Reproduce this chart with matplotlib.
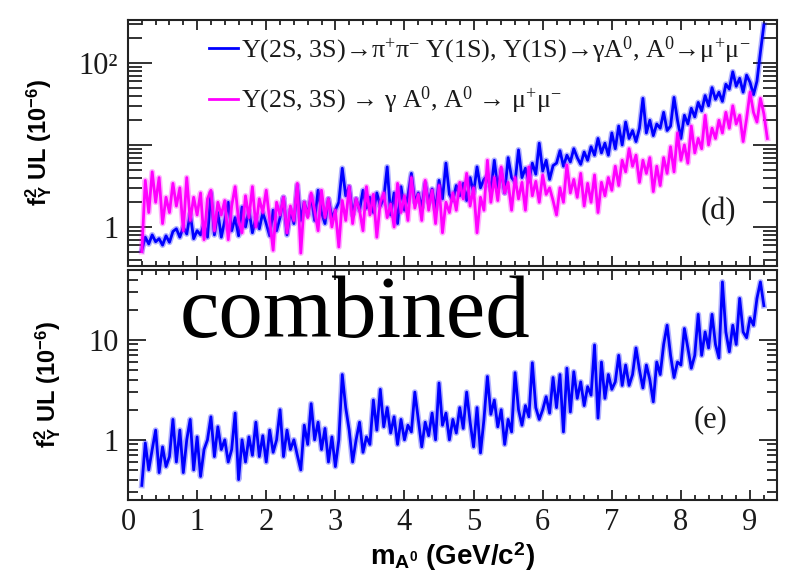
import numpy as np
import matplotlib
matplotlib.use("Agg")
import matplotlib.pyplot as plt
from matplotlib.ticker import FixedLocator, LogLocator, NullFormatter, MultipleLocator

plt.rcParams['mathtext.fontset'] = 'custom'
plt.rcParams['mathtext.rm'] = 'Liberation Serif'
plt.rcParams['mathtext.it'] = 'Liberation Serif:italic'
plt.rcParams['mathtext.bf'] = 'Liberation Sans:bold'

# ---------------- data ----------------
# mass grid (GeV/c^2), 0.05 GeV steps starting at 0.20
mass = np.round(np.arange(0.20, 9.2501, 0.05), 2)

# Upsilon(2S,3S) -> pi+pi- Upsilon(1S), Upsilon(1S) -> gamma A0  (panel d, blue)
ul_pipi = [
    0.52, 0.75, 0.62, 0.8, 0.66, 0.72, 0.6, 0.78, 0.65, 0.88,
    0.95, 0.75, 1.0, 0.82, 1.45, 0.72, 0.9, 0.8, 1.1, 0.75,
    2.6, 0.8, 1.5, 0.75, 1.2, 2.0, 0.9, 1.3, 0.78, 1.75,
    1.0, 1.6, 0.85, 1.3, 0.95, 1.5, 1.1, 0.78, 1.6, 0.9,
    1.3, 2.3, 0.8, 1.6, 1.1, 3.2, 1.2, 2.0, 1.4, 2.4,
    1.2, 2.8, 1.5, 1.1, 2.2, 1.3, 1.6, 2.0, 5.2, 2.4,
    3.1, 1.4, 2.2, 1.6, 2.8, 1.7, 2.3, 1.5, 2.6, 1.8,
    2.2, 5.4, 1.4, 2.6, 1.1, 3.1, 1.6, 2.4, 4.5, 2.0,
    2.6, 1.7, 3.4, 2.0, 2.9, 1.6, 3.7, 2.2, 6.0, 2.5,
    2.1, 3.2, 2.4, 3.4, 2.1, 4.0, 2.6, 5.4, 3.0, 3.8,
    4.2, 2.8, 6.5, 3.0, 5.0, 2.6, 7.0, 4.0, 3.5, 8.7,
    4.0, 5.2, 3.6, 6.0, 4.4, 10.5, 4.8, 6.5, 3.8, 5.6,
    6.0, 8.5, 5.5, 7.5, 6.2, 9.0, 7.0, 5.8, 8.2, 6.5,
    9.5, 7.5, 12.0, 8.0, 10.5, 7.5, 14.0, 9.0, 17.0, 10.0,
    19.0, 12.0, 15.0, 11.0, 16.0, 37.0, 14.0, 20.0, 13.0, 18.0,
    16.0, 25.0, 15.0, 17.0, 38.0, 20.0, 12.0, 23.0, 18.0, 28.0,
    22.0, 33.0, 26.0, 40.0, 30.0, 50.0, 36.0, 44.0, 34.0, 55.0,
    48.0, 78.0, 52.0, 65.0, 44.0, 71.0, 58.0, 41.0, 60.0, 135.0,
    290.0,
]

# Upsilon(2S,3S) -> gamma A0  (panel d, magenta)
ul_gamma = [
    0.5, 3.7, 1.5, 4.7, 2.0, 4.0, 1.1, 2.3, 1.5, 3.4,
    1.8, 3.0, 0.9, 4.0, 1.2, 2.3, 1.4, 2.6, 0.7, 2.2,
    2.8, 0.9, 2.0, 1.4, 2.1, 0.7, 1.8, 3.1, 1.2, 0.85,
    2.4, 1.3, 3.1, 1.0, 2.2, 1.5, 2.8, 1.2, 0.52, 2.0,
    1.4, 2.3, 0.85, 1.8, 1.2, 3.4, 0.48, 2.0, 1.3, 2.6,
    1.6, 0.9, 2.8, 1.3, 2.2, 1.0, 1.6, 0.57, 2.1, 1.2,
    3.1, 1.1, 2.2, 1.6, 0.9, 3.1, 1.4, 2.5, 0.75, 2.0,
    2.6, 1.3, 1.9, 1.0, 3.4, 1.5, 2.4, 1.2, 4.0, 1.7,
    2.5, 1.2, 3.7, 1.6, 2.8, 1.1, 3.2, 0.85, 2.0, 1.5,
    2.6, 1.6, 3.5, 2.2, 4.5, 1.8, 3.0, 0.85, 2.3, 1.6,
    6.5, 2.0, 4.0, 2.1, 5.4, 2.6, 3.5, 1.6, 4.0, 2.2,
    3.5, 1.6, 5.4, 2.4, 3.6, 2.0, 4.3, 2.5, 3.0, 2.1,
    1.4, 3.0, 2.0, 5.7, 2.6, 3.8, 2.3, 4.5, 1.8, 3.4,
    2.0, 4.3, 1.5, 3.5, 2.4, 4.0, 2.8, 5.5, 3.2, 6.5,
    4.7, 9.0, 5.5, 7.5, 3.5, 6.5, 4.5, 7.0, 2.7, 5.5,
    3.2, 7.0, 4.5, 9.5, 4.7, 14.0, 6.5, 10.0, 6.0, 17.0,
    8.0, 12.0, 9.0, 23.0, 10.0, 16.0, 12.0, 20.0, 14.0, 25.0,
    16.0, 30.0, 18.0, 23.0, 11.0, 21.0, 44.0, 25.0, 19.0, 37.0,
    24.0, 12.0,
]

# combined (panel e, blue)
ul_comb = [
    0.35, 0.93, 0.5, 0.8, 1.25, 0.47, 0.85, 0.54, 0.68, 1.6,
    0.6, 1.25, 0.47, 1.0, 1.6, 0.5, 1.07, 0.43, 0.8, 1.0,
    1.7, 0.68, 1.35, 0.8, 1.0, 0.6, 0.8, 1.85, 0.4, 1.0,
    0.6, 1.07, 0.7, 1.5, 0.68, 1.1, 0.6, 1.25, 0.75, 1.0,
    2.0, 0.68, 1.25, 0.8, 1.0, 0.7, 0.5, 1.4, 0.9, 2.3,
    1.0, 1.5, 0.8, 1.3, 0.6, 1.07, 0.54, 1.0, 4.5, 2.1,
    1.25, 0.6, 1.0, 1.5, 0.75, 1.07, 0.9, 2.5, 1.25, 3.2,
    1.35, 2.1, 1.17, 1.7, 0.9, 1.6, 1.0, 1.4, 1.2, 3.0,
    1.6, 0.85, 1.5, 1.1, 1.85, 1.0, 3.7, 1.4, 1.85, 1.0,
    1.6, 1.17, 2.1, 1.3, 3.0, 1.5, 0.85, 2.1, 0.74, 1.6,
    4.3, 1.8, 2.5, 1.35, 2.0, 0.9, 1.6, 1.2, 4.7, 2.0,
    1.4, 2.2, 1.7, 5.9, 2.1, 1.6, 2.0, 2.7, 1.85, 4.2,
    2.1, 4.5, 1.2, 5.2, 1.9, 4.8, 2.6, 3.8, 2.2, 3.4,
    2.8, 8.9, 1.65, 6.0, 2.6, 4.5, 3.2, 3.8, 7.0, 3.5,
    5.6, 3.5, 4.5, 8.3, 5.0, 3.3, 5.6, 4.0, 2.4, 6.0,
    4.5, 9.0, 14.0, 7.0, 4.2, 6.0, 5.6, 13.0, 8.3, 5.2,
    7.0, 18.0, 7.0, 12.0, 8.3, 18.0, 9.0, 6.6, 38.0, 12.0,
    7.6, 14.0, 9.0, 26.0, 12.0, 10.5, 16.6, 14.0, 26.0, 38.0,
    22.0,
]

legend_labels = [
    "Υ(2S, 3S)→π$^{+}$π$^{-}$ Υ(1S), Υ(1S)→γA$^{0}$, A$^{0}$→μ$^{+}$μ$^{-}$",
    "Υ(2S, 3S) → γ A$^{0}$, A$^{0}$ → μ$^{+}$μ$^{-}$",
]
xtick_vals = [0, 1, 2, 3, 4, 5, 6, 7, 8, 9]
top_yticks = [1, 10, 100]
top_yticklabels = ["1", "", "10²"]
bot_yticks = [1, 10]
bot_yticklabels = ["1", "10"]

BLUE = "#0000ff"
MAGENTA = "#ff00ff"
SERIF = ["Liberation Serif", "DejaVu Serif"]
SANS = ["Liberation Sans", "DejaVu Sans"]

fig = plt.figure(figsize=(7.88, 5.77), dpi=100)
W, H = 788.0, 577.0
ax1 = fig.add_axes([128 / W, 1 - 266 / H, 649 / W, 246 / H])
ax2 = fig.add_axes([128 / W, 1 - 500 / H, 649 / W, 230 / H])


def draw(ax, x, y, color):
    ax.plot(x, y, color=color, lw=4.2, alpha=0.3, solid_joinstyle='round')
    return ax.plot(x, y, color=color, lw=2.0, solid_joinstyle='round')[0]


l1 = draw(ax1, mass[:len(ul_pipi)], ul_pipi, BLUE)
l2 = draw(ax1, mass[:len(ul_gamma)], ul_gamma, MAGENTA)
draw(ax2, mass[:len(ul_comb)], ul_comb, BLUE)

for ax in (ax1, ax2):
    ax.set_yscale('log')
    ax.set_xlim(0, 9.39)
    ax.xaxis.set_major_locator(FixedLocator(xtick_vals))
    ax.xaxis.set_minor_locator(MultipleLocator(0.2))
    ax.yaxis.set_minor_locator(LogLocator(base=10, subs=np.arange(2, 10)))
    ax.yaxis.set_minor_formatter(NullFormatter())
    ax.tick_params(which='both', direction='in', top=True, right=True,
                   colors='#222222', width=1.3)
    ax.tick_params(axis='x', which='major', length=7, pad=6)
    ax.tick_params(axis='x', which='minor', length=3.6)
    for s in ax.spines.values():
        s.set_linewidth(1.5)
        s.set_color('#222222')

ax1.set_ylim(0.334, 334)
ax2.set_ylim(0.25, 50)

ax1.set_yticks(top_yticks)
ax1.set_yticklabels(top_yticklabels)
ax2.set_yticks(bot_yticks)
ax2.set_yticklabels(bot_yticklabels)
ax1.tick_params(axis='y', which='major', length=17, pad=7)
ax1.tick_params(axis='y', which='minor', length=10)
ax2.tick_params(axis='y', which='major', length=13, pad=7)
ax2.tick_params(axis='y', which='minor', length=7)
ax1.tick_params(axis='x', labelbottom=False)
ax2.set_xticks(xtick_vals)
ax2.set_xticklabels([str(v) for v in xtick_vals])

for ax in (ax1, ax2):
    for lab in ax.get_xticklabels() + ax.get_yticklabels():
        lab.set_fontfamily(SERIF)
        lab.set_fontsize(22)
        lab.set_color('#1a1a1a')

ylab = r"$\mathbf{f}^{\mathbf{2}}_{\mathbf{Υ}}$ UL (10$^{\mathbf{-6}}$)"
for ax in (ax1, ax2):
    ax.set_ylabel(ylab, fontsize=17, fontweight='bold', family=SANS, labelpad=18)
ax2.set_xlabel(r"$\mathbf{m}_{\mathbf{A}^{\mathbf{0}}}$ (GeV/c$^{\mathbf{2}}$)",
               fontsize=20, fontweight='bold', family=SANS, labelpad=2)

leg = ax1.legend([l1, l2], legend_labels, loc='upper left',
                 bbox_to_anchor=(0.125, 0.94), frameon=False,
                 handlelength=1.1, handletextpad=0.12, labelspacing=0.72,
                 borderpad=0.0, borderaxespad=0.0,
                 prop={'family': SERIF, 'size': 18.7})
for t in leg.get_texts():
    t.set_color('#1a1a1a')

ax1.text(0.909, 0.22, "(d)", transform=ax1.transAxes, ha='center', va='center',
         fontsize=22, family=SERIF, color='#1a1a1a')
ax2.text(0.897, 0.348, "(e)", transform=ax2.transAxes, ha='center', va='center',
         fontsize=22, family=SERIF, color='#1a1a1a')

fig.text(355 / W, 1 - 337 / H, "combined", ha='center', va='baseline',
         fontsize=64, family=SERIF, color='black')

fig.savefig("out.png", dpi=100)
